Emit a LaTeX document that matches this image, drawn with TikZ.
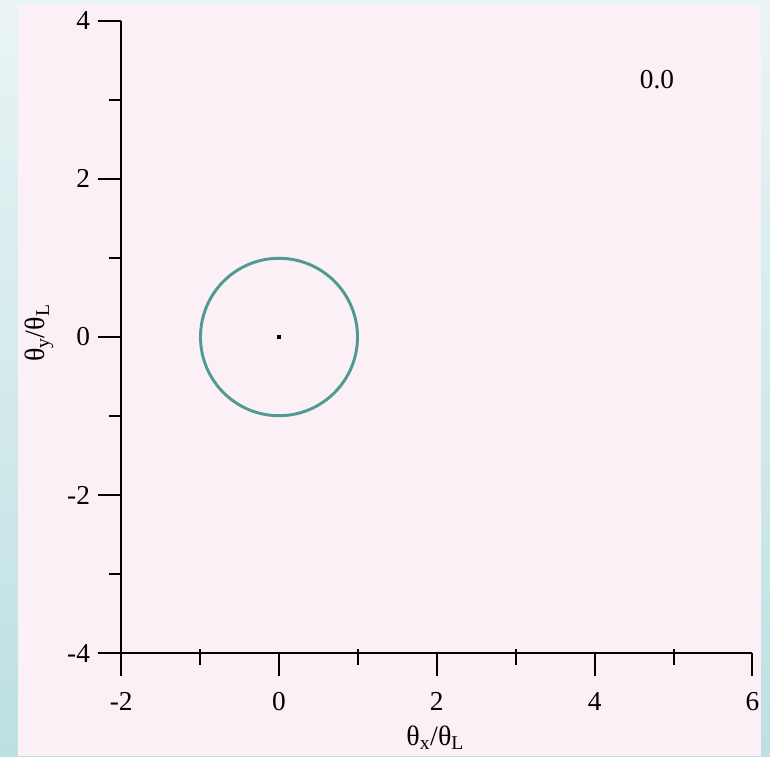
\documentclass[tikz,border=0pt]{standalone}
\usepackage{fontspec}
\setmainfont{Liberation Serif}
\usepackage{xcolor}
\usepackage{tikz}
\usetikzlibrary{positioning}
\definecolor{cPanel}  {HTML}{FBF0F5}
\definecolor{cEdgeTop}{HTML}{EAF4F5}
\definecolor{cEdgeBot}{HTML}{BDE0E3}
\definecolor{cRing}   {HTML}{4F9A94}
\tikzset{
  axln/.style ={line width=1.5pt,black},
  majtk/.style={axln},
  mintk/.style={axln},
  tklbl/.style={font=\fontsize{20.5}{23}\selectfont,inner sep=0pt},
  axlbl/.style={font=\fontsize{21}{24}\selectfont,inner sep=0pt},
  ring/.style ={line width=2.2pt,cRing},
}

\begin{document}
\begin{tikzpicture}[x=59.175pt,y=59.325pt]
    % frame and panel
    \useasboundingbox (-3.5361,-5.2971) rectangle (6.2231,4.2604);
    \shade[top color=cEdgeTop,bottom color=cEdgeBot]
          (-3.5361,-5.2971) rectangle (6.2231,4.2604);
    \fill[cPanel] (-3.308,-5.2971) rectangle (6.109,4.197);
    % axes
    \draw[axln] (-2,-4)--(-2,4);
    \draw[axln] (-2,-4)--(6,-4);
    \foreach \v in {-2,0,...,6} {
      \draw[majtk] (\v,-4)--++(0,-17.25pt);
      \node[tklbl,anchor=north] (xl\v) at ([yshift=-29pt]\v,-4) {\v};
    }
    \foreach \v in {-1,1,3,5}
      \draw[mintk] ([yshift=3pt]\v,-4)--++(0,-12pt);
    \foreach \v in {-4,-2,...,4} {
      \draw[majtk] (-2,\v)--++(-17.25pt,0);
      \node[tklbl,anchor=east] (yl\v) at ([xshift=-23.25pt]-2,\v) {\v};
    }
    \foreach \v in {-3,-1,1,3}
      \draw[mintk] (-2,\v)--++(-9pt,0);
    % lens ring
    \draw[ring] (0,0) circle [radius=0.995];
    \node[fill=black,inner sep=0pt,minimum size=2.4pt] (ctr) at (0,0) {};
    \node[tklbl] (tval) at (4.79,3.25) {0.0};
    % axis titles
    \node[axlbl,anchor=base] (xlbl) at (1.98,-5.158)
         {θ\textsubscript{x}/θ\textsubscript{L}};
    \node[axlbl,anchor=base,rotate=90] (ylbl) at (-2.966,0.05)
         {θ\textsubscript{y}/θ\textsubscript{L}};
  \end{tikzpicture}
\end{document}
